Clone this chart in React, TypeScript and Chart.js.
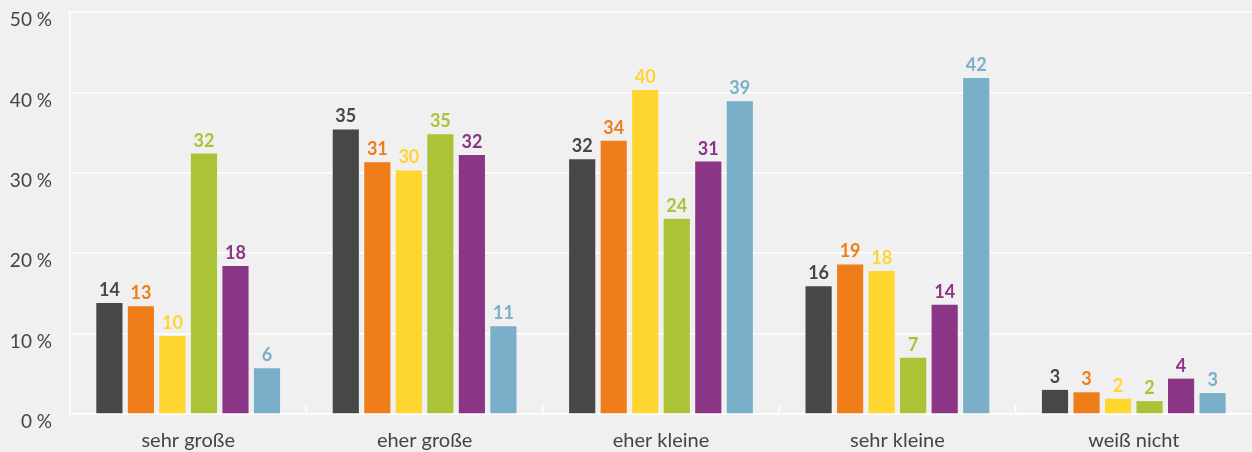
import { useEffect, useRef } from "react";
import { Chart, registerables } from "chart.js";

Chart.register(...registerables);

const categories = ["sehr große", "eher große", "eher kleine", "sehr kleine", "weiß nicht"];
const seriesNames = ["Gruppe 1", "Gruppe 2", "Gruppe 3", "Gruppe 4", "Gruppe 5", "Gruppe 6"];
const seriesColors = ["#474747", "#ef7d19", "#ffd530", "#aac337", "#8b3587", "#7aafca"];
const series1 = [13.8, 35.4, 31.7, 15.9, 3.0];
const series2 = [13.4, 31.3, 34.0, 18.6, 2.7];
const series3 = [9.7, 30.3, 40.3, 17.8, 1.9];
const series4 = [32.4, 34.8, 24.3, 7.0, 1.6];
const series5 = [18.4, 32.2, 31.4, 13.6, 4.4];
const series6 = [5.7, 10.9, 38.9, 41.8, 2.6];
const yMin = 0;
const yMax = 50;
const yStep = 10;

const allSeries = [series1, series2, series3, series4, series5, series6];

const valueLabels = {
  id: "valueLabels",
  afterDatasetsDraw(chart: any) {
    const ctx = chart.ctx;
    ctx.save();
    ctx.font = "bold 18px Lato";
    ctx.textAlign = "center";
    ctx.textBaseline = "alphabetic";
    chart.data.datasets.forEach((ds: any, di: number) => {
      const meta = chart.getDatasetMeta(di);
      meta.data.forEach((el: any, i: number) => {
        ctx.fillStyle = ds.backgroundColor;
        ctx.fillText(String(Math.round(ds.data[i])), el.x, el.y - 7);
      });
    });
    ctx.restore();
  },
};

const categoryTicks = {
  id: "categoryTicks",
  afterDatasetsDraw(chart: any) {
    const ctx = chart.ctx;
    const xs = chart.scales.x;
    const bottom = chart.chartArea.bottom;
    ctx.save();
    ctx.strokeStyle = "#ffffff";
    ctx.lineWidth = 1.5;
    for (let i = 1; i < categories.length; i++) {
      const x = (xs.getPixelForValue(i - 1) + xs.getPixelForValue(i)) / 2;
      ctx.beginPath();
      ctx.moveTo(x, bottom - 9);
      ctx.lineTo(x, bottom);
      ctx.stroke();
    }
    ctx.restore();
  },
};

export default function App() {
  const ref = useRef<HTMLCanvasElement | null>(null);

  useEffect(() => {
    document.body.style.margin = "0";
    document.body.style.background = "#f0f0f0";
    if (!ref.current) return;
    const chart = new Chart(ref.current, {
      type: "bar",
      data: {
        labels: categories,
        datasets: allSeries.map((s, i) => ({
          label: seriesNames[i],
          data: s,
          backgroundColor: seriesColors[i],
          borderWidth: 0,
          categoryPercentage: 0.8,
          barPercentage: 0.83,
        })),
      },
      options: {
        animation: false,
        responsive: true,
        maintainAspectRatio: false,
        layout: { padding: { top: 12, right: 0, left: 0, bottom: 0 } },
        plugins: {
          legend: { display: false },
          tooltip: { enabled: false },
        },
        scales: {
          x: {
            grid: { display: false, drawTicks: false },
            border: { display: true, color: "#ffffff", width: 1.5 },
            ticks: {
              color: "#444444",
              font: { family: "Lato", size: 20 },
              padding: 15,
            },
            afterFit: (scale: any) => {
              scale.height = 38;
              scale.paddingLeft = 0;
              scale.paddingRight = 0;
            },
          },
          y: {
            min: yMin,
            max: yMax,
            grid: { color: "#ffffff", lineWidth: 1.5, drawTicks: false },
            border: { display: true, color: "#ffffff", width: 1.5 },
            ticks: {
              stepSize: yStep,
              color: "#444444",
              font: { family: "Lato", size: 19 },
              padding: 18,
              labelOffset: 8,
              callback: (v: any) => v + " %",
            },
            afterFit: (scale: any) => {
              scale.width = 70;
              scale.paddingTop = 0;
              scale.paddingBottom = 0;
            },
          },
        },
      },
      plugins: [valueLabels, categoryTicks],
    });
    return () => chart.destroy();
  }, []);

  return (
    <div style={{ width: 1252, height: 452, background: "#f0f0f0", position: "relative" }}>
      <canvas ref={ref} />
    </div>
  );
}
